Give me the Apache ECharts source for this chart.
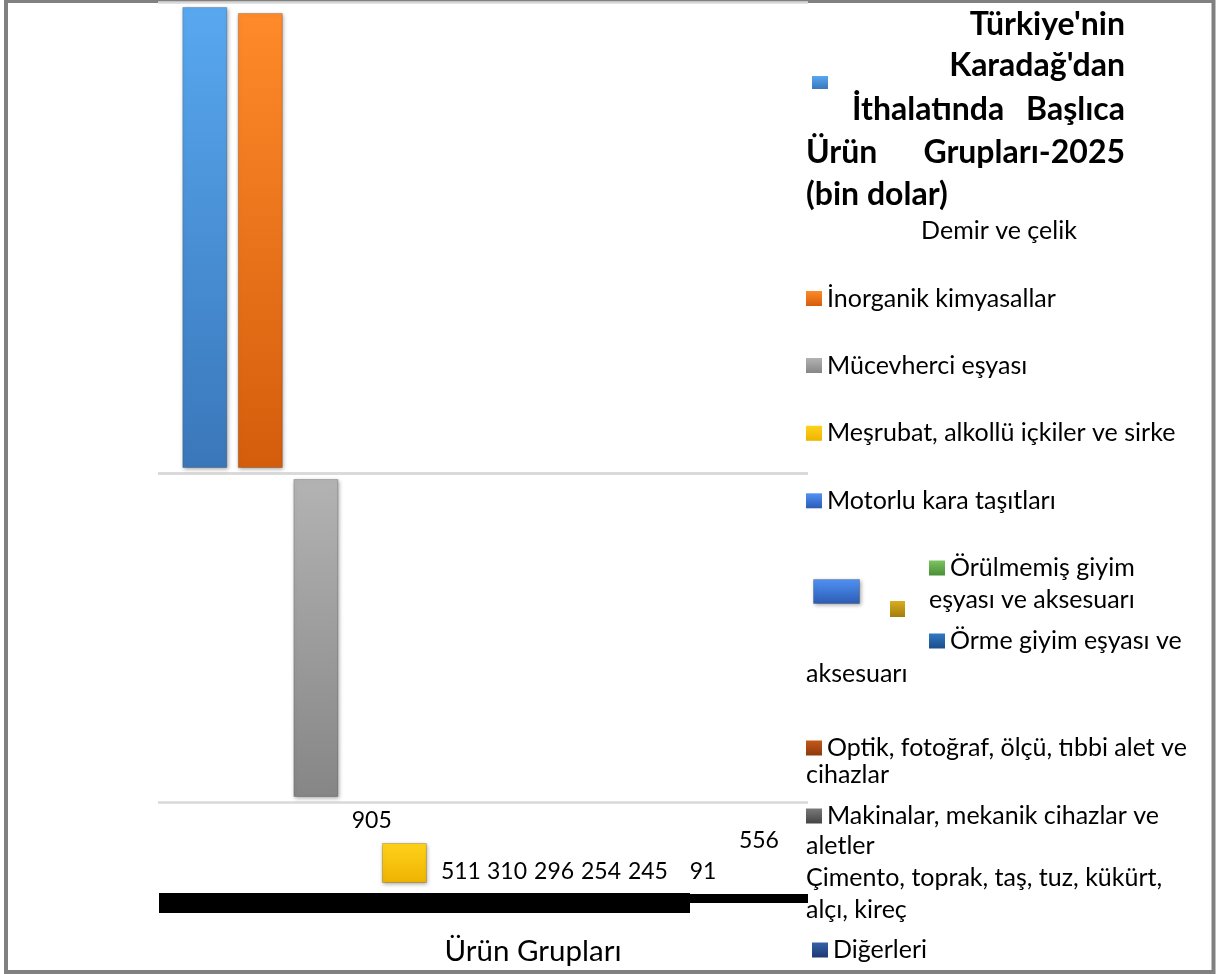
<!DOCTYPE html>
<html><head><meta charset="utf-8">
<script src="https://cdn.jsdelivr.net/npm/echarts@6/dist/echarts.min.js"></script>
<style>html,body{margin:0;padding:0;background:#fff}#c{width:1218px;height:974px}</style>
</head><body><div id="c"></div>
<script>
// ---- data ----
const categories = ['Demir ve çelik','İnorganik kimyasallar','Mücevherci eşyası','Meşrubat, alkollü içkiler ve sirke','Motorlu kara taşıtları','Örülmemiş giyim eşyası ve aksesuarı','Örme giyim eşyası ve aksesuarı','Optik, fotoğraf, ölçü, tıbbi alet ve cihazlar','Makinalar, mekanik cihazlar ve aletler','Çimento, toprak, taş, tuz, kükürt, alçı, kireç','Diğerleri'];
const values = [7280, 7185, 5040, 905, 511, 310, 296, 254, 245, 91, 556];
const titleLines = ["Türkiye'nin", "Karadağ'dan", "İthalatında", "Başlıca", "Ürün", "Grupları-2025", "(bin dolar)"];
const axisTitle = 'Ürün Grupları';

// ---- styles ----
const FONT = "Lato, 'Open Sans', sans-serif";
const FS = 25;
const palette = [
  ['#58a8f0','#3a77ba'], ['#ff8a2a','#d45d0c'], ['#b3b3b3','#868686'], ['#ffd21a','#eeb300'],
  ['#5192f4','#2b5cb4'], ['#7cc461','#4a8e38'], ['#3079c2','#1b4e8a'], ['#c4581b','#8e390c'],
  ['#7a7a7a','#444444'], ['#d9ad22','#a27d0a'], ['#3562aa','#1d3a70']
];
function grad(i){
  return new echarts.graphic.LinearGradient(0,0,0,1,[{offset:0,color:palette[i][0]},{offset:1,color:palette[i][1]}]);
}
function slot(i){ return categories.map((_,k)=> k===i ? values[i] : '-'); }
const barStyle = i => ({color: grad(i), borderColor:'rgba(0,0,0,0.18)', borderWidth:1,
  shadowColor:'rgba(0,0,0,0.35)', shadowBlur:4, shadowOffsetX:1, shadowOffsetY:1});

// ---- grids ----
const L = 177, W = 611;
const grids = [
  {left:158, width:650, top:2, height:471},      // 0 frame top
  {left:158, width:650, top:473, height:329},    // 1 frame middle
  {left:L, width:W, top:7, height:461},          // 2 top bars
  {left:L, width:W, top:479, height:318},        // 3 middle bar
  {left:210, width:W, top:843, height:40},       // 4 yellow
  {left:L, width:W, top:802, height:91},         // 5 labels
  {left:159, width:531, top:880, height:23},     // 6 thick band
  {left:690, width:118, top:880, height:18.5},   // 7 thin band
  {left:813, width:47, top:579, height:25}       // 8 displaced bar
];
const hidCat = {type:'category', data:categories, show:false};
const hidVal = (max)=>({type:'value', min:0, max:max, show:false});
const frameY = {type:'value', min:0, max:1, interval:1, axisLine:{show:false}, axisTick:{show:false}, axisLabel:{show:false},
  splitLine:{show:true, lineStyle:{color:'#d9d9d9', width:2.5}}};
const xAxes = [
  {gridIndex:0, type:'value', min:0, max:1, show:false},
  {gridIndex:1, type:'value', min:0, max:1, show:false},
  Object.assign({gridIndex:2}, hidCat),
  Object.assign({gridIndex:3}, hidCat),
  Object.assign({gridIndex:4}, hidCat),
  Object.assign({gridIndex:5}, hidCat),
  {gridIndex:6, type:'value', min:0, max:1, axisLine:{show:true, onZero:false, lineStyle:{color:'#000', width:20, cap:'butt'}},
   axisTick:{show:false}, axisLabel:{show:false}, splitLine:{show:false},
   name: axisTitle, nameLocation:'middle', nameGap:33,
   nameTextStyle:{fontFamily:FONT, fontSize:29.5, color:'#000', padding:[0,0,0,217]}},
  {gridIndex:7, type:'value', min:0, max:1, axisLine:{show:true, onZero:false, lineStyle:{color:'#000', width:9, cap:'butt'}},
   axisTick:{show:false}, axisLabel:{show:false}, splitLine:{show:false}},
  {gridIndex:8, type:'category', data:[categories[4]], show:false}
];
const yAxes = [
  Object.assign({gridIndex:0}, frameY),
  Object.assign({gridIndex:1}, frameY),
  Object.assign({gridIndex:2}, hidVal(values[0])),
  Object.assign({gridIndex:3}, hidVal(values[2])),
  Object.assign({gridIndex:4}, hidVal(values[3])),
  Object.assign({gridIndex:5}, hidVal(1000)),
  Object.assign({gridIndex:6}, hidVal(1)),
  Object.assign({gridIndex:7}, hidVal(1)),
  Object.assign({gridIndex:8}, hidVal(values[4]))
];

// ---- series ----
const series = [];
const panelOf = {0:2, 1:2, 2:3, 3:4};
[0,1,2,3].forEach(i=>{
  series.push({type:'bar', name:categories[i], xAxisIndex:panelOf[i], yAxisIndex:panelOf[i], stack:'p'+panelOf[i],
    barWidth:45, data:slot(i), itemStyle:barStyle(i),
    label: i===3 ? {show:true, position:'top', distance:0, offset:[-32.7,-10], fontFamily:FONT, fontSize:23, lineHeight:24, color:'#000',
      formatter:p=>String(p.value)} : {show:false}});
});
const labelShift = {4:[34,-9],5:[24.5,-9],6:[16,-9],7:[7.4,-9],8:[-1.2,-9],9:[-1.7,-9],10:[-1.3,-40]};
[4,5,6,7,8,9,10].forEach(i=>{
  series.push({type:'bar', name:categories[i], xAxisIndex:5, yAxisIndex:5, stack:'lab', barWidth:45, data:slot(i),
    itemStyle:{color:'rgba(0,0,0,0)'},
    label:{show:true, position:'insideBottom', distance:0, offset:labelShift[i], fontFamily:FONT, fontSize:23, lineHeight:24, color:'#000',
      formatter:p=>String(p.value)}});
});
series.push({type:'bar', name:categories[4], xAxisIndex:8, yAxisIndex:8, barWidth:'100%', data:[values[4]], itemStyle:barStyle(4)});

// ---- legends ----
const legTxt = {fontFamily:FONT, fontSize:FS, color:'#000', lineHeight:26};
function leg(i, left, cy, text, w, h){
  w = w||16; h = h||15;
  const top = text ? cy-13 : cy-h/2;
  return {left:left, top:top, padding:0, itemWidth:w, itemHeight:h, itemGap:0, icon:'rect', selectedMode:false,
    data:[{name:categories[i], itemStyle:{color:grad(i), borderWidth:0, shadowBlur:0}}], textStyle:legTxt,
    formatter:()=>text};
}
function words(i, a, b){ return categories[i].split(' ').slice(a,b).join(' '); }
const legends = [
  leg(0, 812, 82.5, '', 16, 13),
  leg(1, 806, 298.5, categories[1]),
  leg(2, 806, 365.5, categories[2]),
  leg(3, 806, 433.3, categories[3]),
  leg(4, 806, 500.8, categories[4]),
  leg(5, 929, 568, words(5,0,2)),
  leg(6, 929, 641, words(6,0,4)),
  leg(7, 806, 748, words(7,0,6)),
  leg(8, 806, 816, words(8,0,4)),
  leg(9, 890, 609, '', 15, 16),
  leg(10, 812, 950, categories[10])
];

// ---- text fragments ----
function txt(s, x, y, align, size, bold){
  return {type:'text', x:x, y:y, style:{text:s, fill:'#000', fontFamily:FONT, fontSize:size||FS, fontWeight:bold?'bold':'normal',
    align:align||'left', verticalAlign:'middle'}};
}
const TS = 32;
const graphics = [
  {type:'rect', z:-10, shape:{x:6, y:1, width:1207.5, height:971}, style:{fill:null, stroke:'#808080', lineWidth:4}},
  txt(titleLines[0], 1125, 25, 'right', TS, true),
  txt(titleLines[1], 1125, 66, 'right', TS, true),
  txt(titleLines[2], 852, 110, 'left', TS, true),
  txt(titleLines[3], 1125, 110, 'right', TS, true),
  txt(titleLines[4], 806, 153, 'left', TS, true),
  txt(titleLines[5], 1125, 153, 'right', TS, true),
  txt(titleLines[6], 806, 195, 'left', TS, true),
  txt(categories[0], 999, 231, 'center'),
  txt(words(5,2), 929, 600),
  txt(words(6,4), 806, 674),
  txt(words(7,6), 806, 775),
  txt(words(8,4), 806, 846),
  txt(words(9,0,5), 806, 878),
  txt(words(9,5), 806, 910)
];

const chart = echarts.init(document.getElementById('c'));
chart.setOption({
  animation:false,
  backgroundColor:'#fff',
  grid:grids, xAxis:xAxes, yAxis:yAxes, series:series, legend:legends, graphic:graphics
});
</script></body></html>
